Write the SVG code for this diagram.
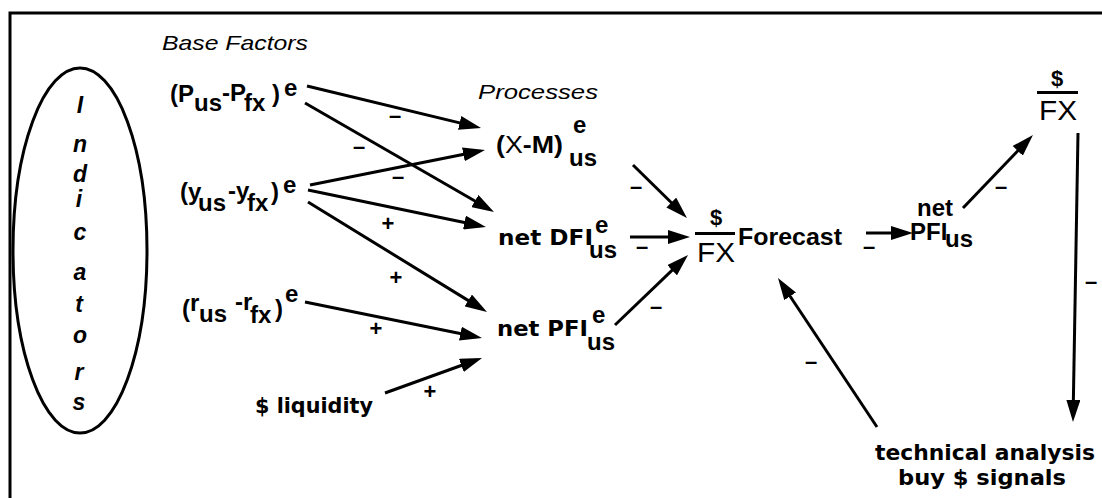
<svg xmlns="http://www.w3.org/2000/svg" width="1102" height="498" viewBox="0 0 1102 498">
<style>
  .t { font-family: "Liberation Sans", Arial, sans-serif; font-weight: bold; font-size: 24px; fill: #000; }
  .v { font-family: "DejaVu Sans", Verdana, sans-serif; font-weight: bold; font-size: 22px; fill: #000; }
  .it { font-family: "Liberation Sans", Arial, sans-serif; font-style: italic; font-size: 21px; fill: #000; }
  .ind { font-family: "Liberation Sans", Arial, sans-serif; font-style: italic; font-weight: bold; font-size: 23px; text-anchor: middle; fill: #000; }
  .fx { font-family: "Liberation Sans", Arial, sans-serif; font-size: 27px; fill: #000; }
  .dol { font-family: "Liberation Sans", Arial, sans-serif; font-weight: bold; font-size: 22px; text-anchor: middle; fill: #000; }
  .sg { font-family: "Liberation Sans", Arial, sans-serif; font-weight: bold; font-size: 22px; text-anchor: middle; fill: #000; }
  .c line { stroke: #000; stroke-width: 3; marker-end: url(#ah); }
  .bar { stroke: #000; stroke-width: 3; }
</style>
<defs>
  <marker id="ah" markerUnits="userSpaceOnUse" markerWidth="24" markerHeight="14" viewBox="0 0 24 14" refX="16" refY="7" orient="auto">
    <path d="M0,0 L22,7 L0,14 Z" fill="#000"/>
  </marker>
</defs>
<rect x="0" y="0" width="1102" height="498" fill="#fff"/>
<rect x="10" y="13" width="1200" height="600" fill="none" stroke="#000" stroke-width="3"/>

<g id="indicators">
  <ellipse cx="80" cy="250.5" rx="67" ry="182.5" fill="none" stroke="#000" stroke-width="3"/>
  <text class="ind" x="80" y="113">I</text>
  <text class="ind" x="80" y="152">n</text>
  <text class="ind" x="80" y="182">d</text>
  <text class="ind" x="79" y="207">i</text>
  <text class="ind" x="80" y="240">c</text>
  <text class="ind" x="80" y="280">a</text>
  <text class="ind" x="79" y="312">t</text>
  <text class="ind" x="80" y="343">o</text>
  <text class="ind" x="79" y="380">r</text>
  <text class="ind" x="79" y="410">s</text>
</g>

<g id="base-factors">
  <text class="it" x="162" y="50" textLength="146" lengthAdjust="spacingAndGlyphs">Base Factors</text>
</g>
<g id="processes">
  <text class="it" x="478" y="99" font-size="22" textLength="120" lengthAdjust="spacingAndGlyphs">Processes</text>
</g>

<g id="p-diff">
  <text class="t"><tspan x="170" y="102">(P</tspan><tspan x="194" y="111">us</tspan><tspan x="222" y="101">-P</tspan><tspan x="244" y="111">fx</tspan><tspan x="272" y="102">)</tspan><tspan x="284" y="96">e</tspan></text>
</g>
<g id="y-diff">
  <text class="t"><tspan x="180" y="200">(y</tspan><tspan x="198" y="211">us</tspan><tspan x="228" y="199">-y</tspan><tspan x="247" y="211">fx</tspan><tspan x="271" y="200">)</tspan><tspan x="283" y="193">e</tspan></text>
</g>
<g id="r-diff">
  <text class="t"><tspan x="182" y="317">(</tspan><tspan x="190" y="311">r</tspan><tspan x="199" y="322">us</tspan><tspan x="235" y="310">-r</tspan><tspan x="250" y="323">fx</tspan><tspan x="275" y="317">)</tspan><tspan x="285" y="302">e</tspan></text>
</g>
<g id="liquidity">
  <text class="v" x="255" y="413" textLength="118" lengthAdjust="spacingAndGlyphs">$ liquidity</text>
</g>

<g id="xm">
  <text class="t" x="496" y="153" font-size="24" textLength="67" lengthAdjust="spacingAndGlyphs">(<tspan font-weight="normal">X</tspan>-M)</text>
  <text class="t" x="573" y="133">e</text>
  <text class="t" x="569" y="166">us</text>
</g>
<g id="dfi">
  <text class="v" x="498" y="245" font-size="23" textLength="95" lengthAdjust="spacingAndGlyphs">net DFI</text>
  <text class="t" x="595" y="233">e</text>
  <text class="t" x="589" y="258">us</text>
</g>
<g id="pfi">
  <text class="v" x="497" y="336" font-size="23" textLength="91" lengthAdjust="spacingAndGlyphs">net PFI</text>
  <text class="t" x="592" y="323">e</text>
  <text class="t" x="587" y="350">us</text>
</g>

<g id="forecast">
  <text class="dol" x="716" y="225">$</text>
  <line class="bar" x1="695" y1="233.5" x2="735" y2="233.5"/>
  <text class="fx" x="697" y="262" textLength="38" lengthAdjust="spacingAndGlyphs">FX</text>
  <text class="t" x="738" y="245" font-size="25" textLength="104" lengthAdjust="spacingAndGlyphs">Forecast</text>
</g>

<g id="net-pfi">
  <text class="t" x="917" y="216" font-size="22">net</text>
  <text class="t" x="910" y="240">PFI</text>
  <text class="t" x="945" y="247">us</text>
</g>

<g id="fx-rate">
  <text class="dol" x="1057" y="86">$</text>
  <line class="bar" x1="1037" y1="92.5" x2="1078" y2="92.5"/>
  <text class="fx" x="1039" y="120" textLength="38" lengthAdjust="spacingAndGlyphs">FX</text>
</g>

<g id="technical">
  <text class="v" x="875" y="460" textLength="220" lengthAdjust="spacingAndGlyphs">technical analysis</text>
  <text class="v" x="898" y="485" textLength="168" lengthAdjust="spacingAndGlyphs">buy $ signals</text>
</g>

<g id="connectors" class="c">
  <line x1="307" y1="86" x2="475.2" y2="126.6"/>
  <line x1="305" y1="103" x2="488.8" y2="209"/>
  <line x1="310" y1="185" x2="479.1" y2="151.2"/>
  <line x1="308" y1="190" x2="480.1" y2="225.8"/>
  <line x1="308" y1="202" x2="481.9" y2="308.9"/>
  <line x1="305" y1="302" x2="476.1" y2="336.8"/>
  <line x1="385" y1="393" x2="476.4" y2="360"/>
  <line x1="633" y1="165" x2="682.7" y2="213.8"/>
  <line x1="630" y1="237" x2="684" y2="237"/>
  <line x1="615" y1="325" x2="683.7" y2="259.2"/>
  <line x1="866" y1="233" x2="907" y2="233"/>
  <line x1="963" y1="208" x2="1028.8" y2="139.3"/>
  <line x1="1078" y1="133" x2="1073.1" y2="416"/>
  <line x1="877" y1="427" x2="781.3" y2="283"/>
</g>

<g id="signs">
  <text class="sg" x="395" y="123">–</text>
  <text class="sg" x="359" y="154">–</text>
  <text class="sg" x="398" y="184">–</text>
  <text class="sg" x="388" y="230.5">+</text>
  <text class="sg" x="396" y="284.5">+</text>
  <text class="sg" x="376" y="335.5">+</text>
  <text class="sg" x="430" y="398.5">+</text>
  <text class="sg" x="636" y="194">–</text>
  <text class="sg" x="642" y="254">–</text>
  <text class="sg" x="656" y="314">–</text>
  <text class="sg" x="1001" y="194">–</text>
  <text class="sg" x="869" y="254">–</text>
  <text class="sg" x="1091" y="289">–</text>
  <text class="sg" x="811" y="369">–</text>
</g>
</svg>
